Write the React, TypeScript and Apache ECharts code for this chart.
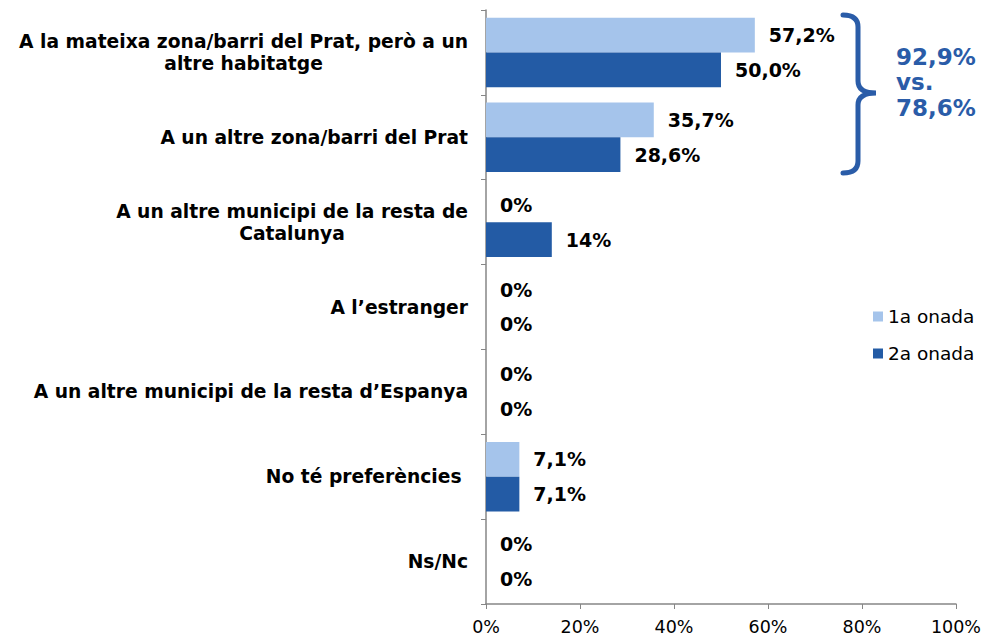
import React, { useEffect, useRef } from "react";
import * as echarts from "echarts";

const categories = [
  "A la mateixa zona/barri del Prat, però a un\naltre habitatge",
  "A un altre zona/barri del Prat",
  "A un altre municipi de la resta de\nCatalunya",
  "A l’estranger",
  "A un altre municipi de la resta d’Espanya",
  "No té preferències ",
  "Ns/Nc",
];
const seriesNames = ["1a onada", "2a onada"];
const wave1 = [57.2, 35.7, 0, 0, 0, 7.1, 0];
const wave2 = [50.0, 28.6, 14, 0, 0, 7.1, 0];
const wave1Labels = ["57,2%", "35,7%", "0%", "0%", "0%", "7,1%", "0%"];
const wave2Labels = ["50,0%", "28,6%", "14%", "0%", "0%", "7,1%", "0%"];
const xTicks = [0, 20, 40, 60, 80, 100];
const annotation = ["92,9%", "vs.", "78,6%"];

const LIGHT = "#A5C4EB";
const DARK = "#235BA5";
const FONT = "'DejaVu Sans', Verdana, sans-serif";

const bracePath =
  "M843,15 Q858,15 858,27 L858,81 Q858,93 876,93 Q858,93 858,105 L858,161 Q858,173 843,173";

export default function App() {
  const ref = useRef<HTMLDivElement>(null);
  useEffect(() => {
    if (!ref.current) return;
    echarts.graphic.registerShape("brace", echarts.graphic.extendPath(bracePath, {}) as any);
    const chart = echarts.init(ref.current, undefined, { renderer: "svg" });
    const valueLabel = (labels: string[]) => ({
      show: true,
      position: "right",
      distance: 14,
      color: "#000",
      fontFamily: FONT,
      fontWeight: "bold",
      fontSize: 19,
      formatter: (p: any) => labels[p.dataIndex],
    });
    const option: any = {
      animation: false,
      textStyle: { fontFamily: FONT },
      grid: { left: 486, right: 27, top: 10, bottom: 34, containLabel: false },
      legend: {
        orient: "vertical",
        left: 873,
        top: 307,
        padding: 0,
        itemWidth: 10,
        itemHeight: 10,
        itemGap: 18,
        icon: "rect",
        data: seriesNames,
        textStyle: { fontFamily: FONT, fontSize: 18.5, color: "#000", lineHeight: 18 },
      },
      xAxis: {
        type: "value",
        min: 0,
        max: 100,
        interval: 20,
        splitLine: { show: false },
        axisLine: { show: true, lineStyle: { color: "#868686", width: 1.5 } },
        axisTick: { show: true, length: 5, lineStyle: { color: "#868686" } },
        axisLabel: {
          color: "#000",
          fontSize: 17.5,
          fontFamily: FONT,
          margin: 14,
          formatter: (v: number) => (xTicks.includes(v) ? `${v}%` : ""),
        },
      },
      yAxis: {
        type: "category",
        data: categories,
        inverse: true,
        axisLine: { show: true, lineStyle: { color: "#868686", width: 1.5 } },
        axisTick: { show: true, length: 5, lineStyle: { color: "#868686" } },
        axisLabel: {
          margin: 18,
          color: "#000",
          formatter: (v: string) =>
            v
              .split("\n")
              .map((l) => `{c|${l}}`)
              .join("\n"),
          rich: {
            c: {
              align: "center",
              fontFamily: FONT,
              fontWeight: "bold",
              fontSize: 18.7,
              lineHeight: 22,
              color: "#000",
            },
          },
        },
      },
      series: [
        {
          name: seriesNames[0],
          type: "bar",
          data: wave1,
          barGap: "0%",
          barCategoryGap: "18%",
          itemStyle: { color: LIGHT },
          label: valueLabel(wave1Labels),
        },
        {
          name: seriesNames[1],
          type: "bar",
          data: wave2,
          barGap: "0%",
          barCategoryGap: "18%",
          itemStyle: { color: DARK },
          label: valueLabel(wave2Labels),
        },
      ],
      graphic: [
        {
          type: "brace",
          x: 0,
          y: 0,
          style: { stroke: "#2A5CA8", lineWidth: 5, fill: "none", lineCap: "round" },
        },
        {
          type: "text",
          left: 896,
          top: 44,
          style: {
            text: annotation.join("\n"),
            fill: "#2A5CA8",
            fontFamily: FONT,
            fontWeight: "bold",
            fontSize: 23,
            lineHeight: 25.5,
          },
        },
      ],
    };
    chart.setOption(option);
    return () => chart.dispose();
  }, []);
  return (
    <div
      ref={ref}
      style={{ position: "absolute", left: 0, top: 0, width: 984, height: 638, background: "#fff" }}
    />
  );
}
